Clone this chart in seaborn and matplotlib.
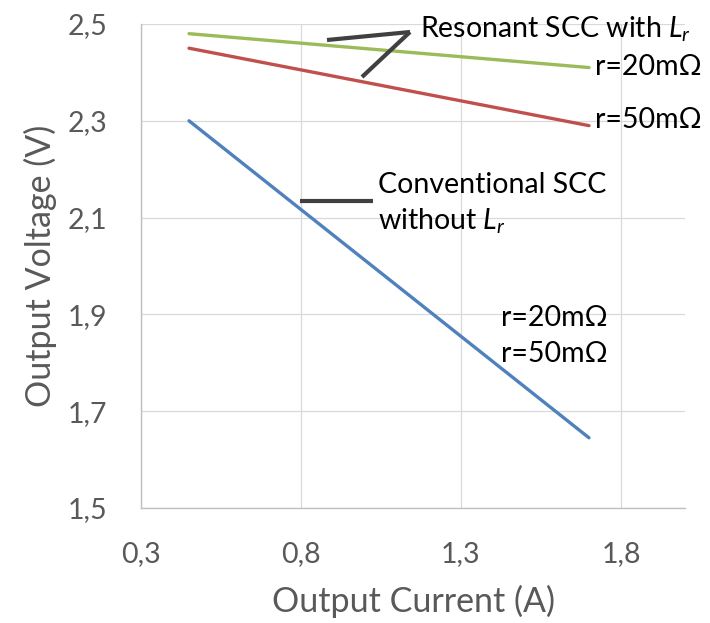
import matplotlib
matplotlib.use("Agg")
import matplotlib.pyplot as plt
import seaborn as sns
import pandas as pd

# Data
current_x = [0.45, 1.70]
v_res_20 = [2.48, 2.41]
v_res_50 = [2.45, 2.29]
v_conv = [2.30, 1.645]
series_names = ["Resonant r=20mΩ", "Resonant r=50mΩ", "Conventional"]
x_ticks = [0.3, 0.8, 1.3, 1.8]
y_ticks = [1.5, 1.7, 1.9, 2.1, 2.3, 2.5]

df = pd.concat([
    pd.DataFrame({"I": current_x, "V": v_res_20, "s": series_names[0]}),
    pd.DataFrame({"I": current_x, "V": v_res_50, "s": series_names[1]}),
    pd.DataFrame({"I": current_x, "V": v_conv, "s": series_names[2]}),
])

sns.set_theme(style="white")
plt.rcParams['font.family'] = ['Lato', 'DejaVu Sans']
plt.rcParams['mathtext.fontset'] = 'custom'
plt.rcParams['mathtext.rm'] = 'Lato'
plt.rcParams['mathtext.it'] = 'Lato:italic'

W, H = 710, 623
fig = plt.figure(figsize=(W / 100, H / 100), dpi=100)
L, T, B = 141, 24, 508
R = L + 1.7 * 320
ax = fig.add_axes([L / W, (H - B) / H, (R - L) / W, (B - T) / H])

palette = {series_names[0]: "#9BBB59", series_names[1]: "#C0504D", series_names[2]: "#4F81BD"}
sns.lineplot(data=df, x="I", y="V", hue="s", palette=palette, linewidth=2.4, ax=ax, legend=False)

ax.set_xlim(0.3, 2.0)
ax.set_ylim(1.5, 2.5)
ax.set_xticks(x_ticks)
ax.set_yticks(y_ticks)
ax.set_xticklabels([f"{t:.1f}".replace(".", ",") for t in x_ticks])
ax.set_yticklabels([f"{t:.1f}".replace(".", ",") for t in y_ticks])
ax.grid(True, color="#D9D9D9", linewidth=0.9)
ax.tick_params(axis="y", labelsize=20.5, colors="#595959", length=0, pad=24)
ax.tick_params(axis="x", labelsize=20.5, colors="#595959", length=0, pad=24)
for s in ["top", "right"]:
    ax.spines[s].set_visible(False)
for s in ["left", "bottom"]:
    ax.spines[s].set_color("#BFBFBF")
    ax.spines[s].set_linewidth(1.0)
ax.set_xlabel("Output Current (A)", fontsize=24.5, color="#595959")
ax.set_ylabel("Output Voltage (V)", fontsize=24.5, color="#595959")
ax.xaxis.set_label_coords(0.5, (B - 601) / (B - T))
ax.xaxis.label.set_va("center")
ax.yaxis.set_label_coords((40 - L) / (R - L), 0.5)
ax.yaxis.label.set_va("center")


def px(xp, yp):
    return 0.3 + (xp - L) / 320, 2.5 - (yp - T) / 484


lc = "#404040"
for (a, b) in [((410, 32), (327, 40)), ((410, 32), (362, 77)), ((300, 201), (373, 201))]:
    (x1, y1), (x2, y2) = px(*a), px(*b)
    ax.plot([x1, x2], [y1, y2], color=lc, linewidth=3, solid_capstyle="butt", clip_on=False)

fs = 20.5
kw = dict(fontsize=fs, color="black", va="baseline")
ax.text(*px(420, 37), "Resonant SCC with $L_r$", ha="left", **kw)
ax.text(*px(595, 75), "r=20mΩ", ha="left", **kw)
ax.text(*px(595, 128), "r=50mΩ", ha="left", **kw)
ax.text(*px(378, 193), "Conventional SCC", ha="left", **kw)
ax.text(*px(378, 230), "without $L_r$", ha="left", **kw)
ax.text(*px(608, 326), "r=20mΩ", ha="right", **kw)
ax.text(*px(608, 362), "r=50mΩ", ha="right", **kw)

fig.savefig("out.png", dpi=100)
